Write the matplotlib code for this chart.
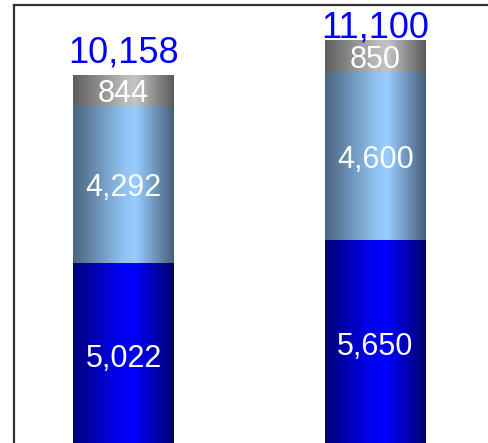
import numpy as np
import matplotlib.pyplot as plt
from matplotlib.colors import LinearSegmentedColormap

plt.rcParams['font.family'] = ['Liberation Sans', 'DejaVu Sans']

# stacked segments, bottom to top
positions = [0, 1]
base = [5022, 5650]
middle = [4292, 4600]
top = [844, 850]
totals = [10158, 11100]

seg_values = [base, middle, top]
seg_cmaps = [
    LinearSegmentedColormap.from_list('dk', [(0, '#000078'), (0.45, '#0000f0'), (0.6, '#0000ff'), (1, '#000070')]),
    LinearSegmentedColormap.from_list('lt', [(0, '#4a6580'), (0.5, '#90c2f0'), (0.62, '#99ccff'), (1, '#466078')]),
    LinearSegmentedColormap.from_list('gy', [(0, '#5e5e5e'), (0.5, '#b8b8b8'), (0.62, '#c4c4c4'), (1, '#5a5a5a')]),
]
bar_width = 0.4
total_offsets = [9, 2]   # points above the top of each stack

W, H = 489, 443
fig = plt.figure(figsize=(W / 100, H / 100), dpi=100)
ax = fig.add_axes([14 / W, -20 / H, (W + 20 - 14) / W, (H + 20 - 5) / H])
ax.set_xlim(-0.4345, 1.5298)
ax.set_ylim(-437, 12077)
ax.axis('off')
for s in ['right', 'bottom']:
    ax.spines[s].set_visible(False)

grad = np.linspace(0, 1, 256).reshape(1, -1)
for i, x in enumerate(positions):
    bottom = 0
    for vals, cmap in zip(seg_values, seg_cmaps):
        v = vals[i]
        ax.imshow(grad, cmap=cmap, aspect='auto', interpolation='bilinear',
                  extent=(x - bar_width / 2, x + bar_width / 2, bottom, bottom + v), zorder=2)
        ax.text(x, bottom + v / 2, f'{v:,}', color='white', fontsize=22,
                ha='center', va='center_baseline', zorder=3)
        bottom += v
    ax.annotate(f'{totals[i]:,}', (x, totals[i]), xytext=(0, total_offsets[i]),
                textcoords='offset points', ha='center', va='baseline',
                color='#0000ff', fontsize=26, zorder=3, annotation_clip=False)

ax.set_xlim(-0.4345, 1.5298)
ax.set_ylim(-437, 12077)

# frame edges on left and top
fig.add_artist(plt.Line2D([14 / W, 14 / W], [0, 1 - 5 / H], color='#303030', lw=1.6))
fig.add_artist(plt.Line2D([14 / W, 1], [1 - 5 / H, 1 - 5 / H], color='#303030', lw=1.6))

fig.savefig('out.png', dpi=100)
